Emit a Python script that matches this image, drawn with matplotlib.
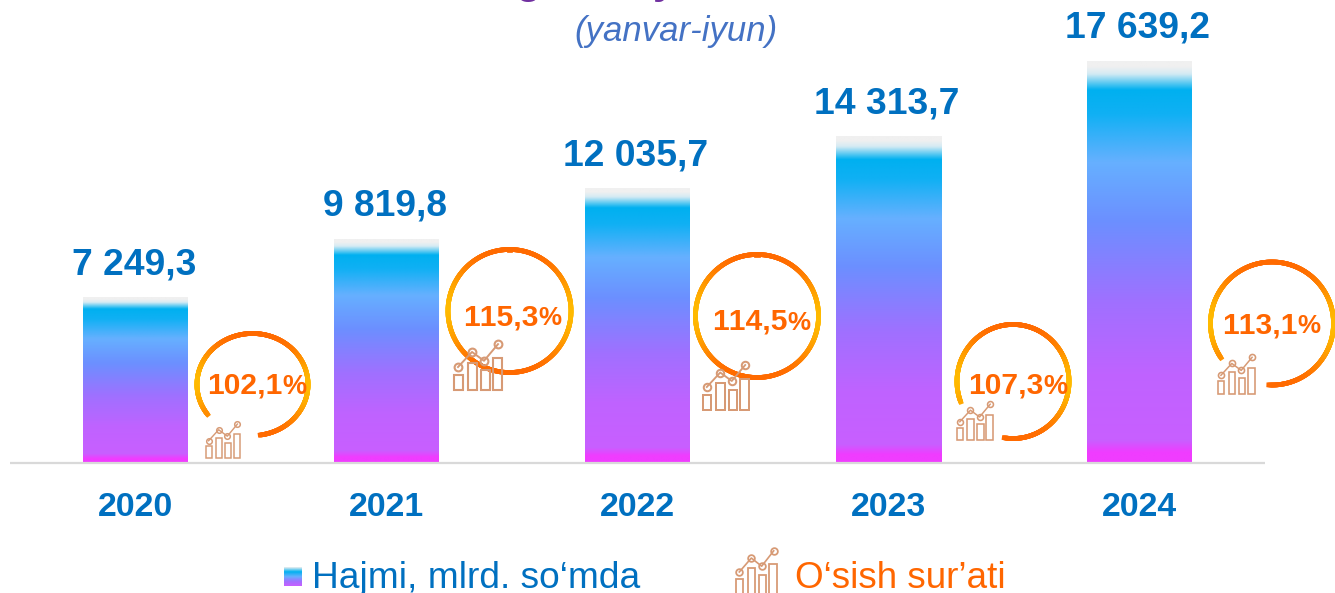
import numpy as np
import matplotlib
matplotlib.use("Agg")
import matplotlib.pyplot as plt
from matplotlib.collections import LineCollection
from matplotlib.colors import LinearSegmentedColormap, to_rgb
from matplotlib.patches import Rectangle

years = ["2020", "2021", "2022", "2023", "2024"]
volumes = [7249.3, 9819.8, 12035.7, 14313.7, 17639.2]
volume_labels = ["7 249,3", "9 819,8", "12 035,7", "14 313,7", "17 639,2"]
growth_numbers = ["102,1", "115,3", "114,5", "107,3", "113,1"]
legend_volume = "Hajmi, mlrd. so\u2018mda"
legend_growth = "O\u2018sish sur\u2019ati"
subtitle = "(yanvar-iyun)"

W, H = 1335, 593
plt.rcParams["font.family"] = ["Liberation Sans", "DejaVu Sans"]
plt.rcParams["text.kerning_factor"] = 6
BLUE, ORANGE = "#0070C0", "#FF6600"
ICON = "#D79A75"

fig = plt.figure(figsize=(W / 100, H / 100), dpi=100, facecolor="white")

# value axis: baseline at 462 px, 0.02279 px per unit
scale, base, x0, step, bar_w = 0.02279, 462.5, 135.5, 251.0, 105 / 251
ax = fig.add_axes([0, 0, 1, 1])
ax.set_xlim(-x0 / step, (W - x0) / step)
ax.set_ylim(-(H - base) / scale, base / scale)
ax.axis("off")

grad = LinearSegmentedColormap.from_list("bar", [
    (0.00, "#F0F0F0"), (0.012, "#F0F0F0"), (0.03, "#D5EBF4"), (0.07, "#00B0F0"), (0.13, "#10B0F4"),
    (0.25, "#66B0FF"), (0.40, "#6C8FFF"), (0.60, "#A070FF"), (0.78, "#BF63FF"),
    (0.945, "#C85FFF"), (0.975, "#F03CFF"), (1.00, "#F03CFF")])
ramp = np.linspace(0, 1, 256)[:, None]

bars = ax.bar(range(len(years)), volumes, width=bar_w, color="none", linewidth=0)
for rect in bars:
    x, w, h = rect.get_x(), rect.get_width(), rect.get_height()
    ax.imshow(ramp, cmap=grad, vmin=0, vmax=1, aspect="auto", origin="upper",
              extent=[x, x + w, 0, h], interpolation="bilinear", zorder=2)
ax.set_xlim(-x0 / step, (W - x0) / step)
ax.set_ylim(-(H - base) / scale, base / scale)

for i, (v, lab) in enumerate(zip(volumes, volume_labels)):
    ax.annotate(lab, (i, v), xytext=(-1.2, 23.2), textcoords="offset points", ha="center",
                va="center", fontsize=26.8, fontweight="bold", color=BLUE)
    ax.annotate(years[i], (i, 0), xytext=(0, -32.3), textcoords="offset points", ha="center",
                va="center", fontsize=24.4, fontweight="bold", color=BLUE)

# pixel-space overlay for decoration
ov = fig.add_axes([0, 0, 1, 1], facecolor="none")
ov.set_xlim(0, W)
ov.set_ylim(H, 0)
ov.axis("off")
ov.plot([10, 1265], [463, 463], color="#D9D9D9", lw=1.6, solid_capstyle="butt", zorder=1)

c_a, c_b = np.array(to_rgb("#FF6A00")), np.array(to_rgb("#FFBA00"))

def ring(cx, cy, rx, ry, start, end):
    t = np.radians(np.linspace(start, end, 300))
    x, y = cx + rx * np.cos(t), cy - ry * np.sin(t)
    pts = np.column_stack([x, y])
    segs = np.stack([pts[:-1], pts[1:]], axis=1)
    mix = np.abs(np.cos((t[:-1] + t[1:]) / 2))[:, None] ** 4
    ov.add_collection(LineCollection(segs, colors=c_a * (1 - mix) + c_b * mix,
                                     linewidths=3.4, capstyle="projecting", zorder=3))

def icon(x, y, w, h):
    """Small bars-and-trend glyph; (x, y) is its top-left, w and h its size."""
    k = w / 50
    tops = [0.67, 0.44, 0.58, 0.35]
    xs = [0.02, 0.30, 0.56, 0.80]
    bw = 0.17
    for xf, tf in zip(xs, tops):
        ov.add_patch(Rectangle((x + xf * w, y + tf * h), bw * w, (0.97 - tf) * h, fill=False,
                               ec=ICON, lw=1.5 * k, zorder=4))
    px = [0.10, 0.38, 0.62, 0.90]
    py = [0.52, 0.23, 0.40, 0.08]
    ov.plot([x + a * w for a in px], [y + b * h for b in py], color=ICON, lw=1.4 * k,
            marker="o", ms=5.6 * k, mfc="none", mec=ICON, mew=1.5 * k, zorder=4)

rings = [(252.5, 384.5, 55.5, 51, -82, -144), (509.5, 311, 61.5, 61.5, -90, -90),
         (757, 316, 61.5, 61.5, -90, -90), (1013, 381.5, 56, 57, -99, -159),
         (1272, 323.5, 61.5, 61.5, -93, -146)]
icons = [(205, 421, 36, 38), (453, 340, 50, 52), (702, 361, 48, 50), (956, 401, 38, 40), (1217, 354, 39, 41)]
text_pos = [(207, 386, 19.5), (463, 317, 18.7), (712, 322, 18.7), (968, 386, 19.5), (1222, 325, 18.7)]

for (cx, cy, rx, ry, a, b), ic, (tx, ty, fs_pct), num in zip(rings, icons, text_pos, growth_numbers):
    ring(cx, cy, rx, ry, a, b + 360)
    icon(*ic)
    t = ov.text(tx, ty, num, ha="left", va="center", fontsize=21.6, fontweight="bold",
                color=ORANGE, zorder=5)
    bb = t.get_window_extent(fig.canvas.get_renderer())
    ov.text(tx + bb.width, ty + 1, "%", ha="left", va="center", fontsize=fs_pct,
            fontweight="bold", color=ORANGE, zorder=5)

ov.text(676.5, 32, subtitle, ha="center", va="center", fontsize=25, style="italic", color="#4472C4")

# descenders of the title that the crop of the reference cuts off
ov.text(528, -6.8, "g", ha="center", va="baseline", fontsize=30, fontweight="bold", color="#7030A0")
ov.text(664, -6.8, "y", ha="center", va="baseline", fontsize=30, fontweight="bold", color="#7030A0")

# legend
ov.imshow(ramp, cmap=LinearSegmentedColormap.from_list("sw", ["#F0F0F0", "#00B0F0", "#66B0FF", "#A070FF", "#C85FFF"]),
          aspect="auto", extent=[284, 302, 586, 567], origin="upper", zorder=2)
ov.set_xlim(0, W)
ov.set_ylim(H, 0)
ov.text(312, 587.5, legend_volume, ha="left", va="baseline", fontsize=26.7, color=BLUE)
icon(735, 547, 43, 48)
ov.text(795, 587.5, legend_growth, ha="left", va="baseline", fontsize=26.6, color=ORANGE)

fig.savefig("out.png", dpi=100, facecolor="white")
